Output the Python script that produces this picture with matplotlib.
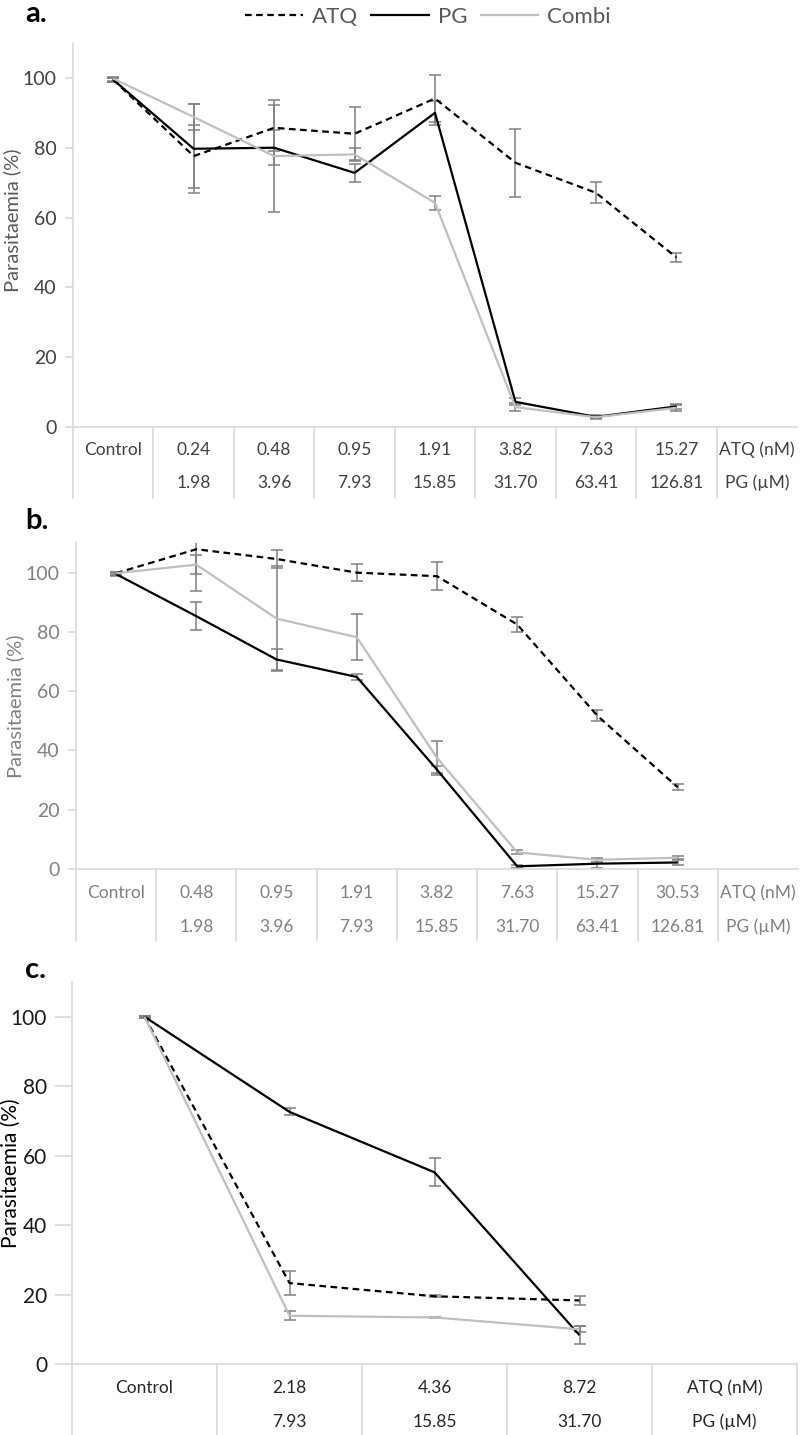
import matplotlib
matplotlib.use("Agg")
import matplotlib.pyplot as plt
from matplotlib import font_manager
from matplotlib.lines import Line2D
from matplotlib.transforms import blended_transform_factory

# ---------------- data ----------------
atq_a_labels = ["Control", "0.24", "0.48", "0.95", "1.91", "3.82", "7.63", "15.27"]
pg_a_labels = ["", "1.98", "3.96", "7.93", "15.85", "31.70", "63.41", "126.81"]
atq_a = [99.5, 77.6, 85.7, 84.0, 94.1, 75.7, 67.1, 48.6]
atq_a_err = [0.6, 9.0, 6.5, 7.7, 6.7, 9.8, 3.0, 1.2]
pg_a = [99.5, 79.7, 80.0, 72.8, 90.0, 7.2, 2.9, 5.9]
pg_a_err = [0.6, 12.7, 5.0, 2.5, 3.4, 1.0, 0.4, 0.8]
combi_a = [99.8, 88.8, 77.6, 78.1, 64.2, 5.7, 2.8, 5.5]
combi_a_err = [0.6, 3.6, 16.0, 1.7, 2.0, 1.2, 0.4, 0.8]

atq_b_labels = ["Control", "0.48", "0.95", "1.91", "3.82", "7.63", "15.27", "30.53"]
pg_b_labels = ["", "1.98", "3.96", "7.93", "15.85", "31.70", "63.41", "126.81"]
atq_b = [99.8, 107.9, 104.6, 100.0, 98.8, 82.5, 51.7, 27.6]
atq_b_err = [0.5, 14.0, 3.1, 2.8, 4.8, 2.4, 1.9, 1.0]
pg_b = [99.5, 85.3, 70.7, 64.8, 33.5, 0.9, 1.8, 2.2]
pg_b_err = [0.5, 4.7, 3.7, 1.0, 1.2, 0.5, 1.5, 0.8]
combi_b = [99.8, 102.7, 84.5, 78.2, 37.5, 5.6, 3.1, 3.8]
combi_b_err = [0.5, 3.1, 17.6, 7.8, 5.8, 0.7, 0.6, 0.5]

atq_c_labels = ["Control", "2.18", "4.36", "8.72"]
pg_c_labels = ["", "7.93", "15.85", "31.70"]
atq_c = [100.0, 23.3, 19.5, 18.3]
atq_c_err = [0.3, 3.5, 0.3, 1.2]
pg_c = [100.0, 72.6, 55.2, 8.3]
pg_c_err = [0.3, 1.0, 4.0, 2.6]
combi_c = [100.0, 13.9, 13.4, 10.0]
combi_c_err = [0.3, 1.3, 0.2, 0.8]

series_names = ["ATQ", "PG", "Combi"]
unit_labels = ["ATQ (nM)", "PG (\u00b5M)"]

# ---------------- fonts ----------------
avail = {f.name for f in font_manager.fontManager.ttflist}
narrow = "Liberation Sans Narrow" if "Liberation Sans Narrow" in avail else "Lato"
plt.rcParams["font.family"] = [narrow, "DejaVu Sans"]

W, H = 800, 1435
fig = plt.figure(figsize=(W / 100, H / 100), dpi=100)


def px_axes(left, top, right, bottom):
    return fig.add_axes([left / W, 1 - bottom / H, (right - left) / W, (bottom - top) / H])


def fy(ypx):
    return 1 - ypx / H


styles = {
    "ATQ": dict(color="black", lw=1.6, dashes=(3, 2)),
    "PG": dict(color="black", lw=1.6),
    "Combi": dict(color="#BFBFBF", lw=1.6),
}


def draw_panel(ax, vals, errs, atq_lbls, pg_lbls, ncols, tick_color, tick_size,
               tick_len, table_color, table_size, rows_y, table_bottom,
               axis_bottom_px, right_border, table_font):
    x = list(range(len(atq_lbls)))
    for name, v, e in zip(series_names, vals, errs):
        ax.errorbar(x, v, yerr=e, fmt="none", ecolor="#808080", elinewidth=1.1,
                    capsize=4.5, capthick=1.1, zorder=2)
    for name, v in zip(series_names, vals):
        ax.plot(x, v, zorder=3, solid_capstyle="butt", dash_capstyle="butt", **styles[name])
    ax.set_xlim(-0.5, ncols - 0.5)
    ax.set_ylim(0, 110)
    ax.set_yticks(range(0, 101, 20))
    ax.set_xticks([])
    for s in ["top", "right"]:
        ax.spines[s].set_visible(False)
    for s in ["left", "bottom"]:
        ax.spines[s].set_color("#D9D9D9")
        ax.spines[s].set_linewidth(1.2)
    ax.tick_params(axis="y", colors="#D9D9D9", labelcolor=tick_color,
                   labelsize=tick_size, length=tick_len, width=1.2, pad=6)
    for lab in ax.get_yticklabels():
        lab.set_family(table_font)
    tr = blended_transform_factory(ax.transData, fig.transFigure)
    bounds = [i - 0.5 for i in range(ncols)]
    if right_border:
        bounds.append(ncols - 0.5)
    for b in bounds:
        fig.add_artist(Line2D([b, b], [fy(axis_bottom_px), fy(table_bottom)],
                              transform=tr, color="#D9D9D9", lw=1.2))
    for i, (t1, t2) in enumerate(zip(atq_lbls, pg_lbls)):
        fig.text(i, fy(rows_y[0]), t1, transform=tr, ha="center", va="center",
                 color=table_color, fontsize=table_size, family=table_font)
        if t2:
            fig.text(i, fy(rows_y[1]), t2, transform=tr, ha="center", va="center",
                     color=table_color, fontsize=table_size, family=table_font)
    fig.text(ncols - 1, fy(rows_y[0]), unit_labels[0], transform=tr, ha="center",
             va="center", color=table_color, fontsize=table_size, family=table_font)
    fig.text(ncols - 1, fy(rows_y[1]), unit_labels[1], transform=tr, ha="center",
             va="center", color=table_color, fontsize=table_size, family=table_font)


# Panel a
ax_a = px_axes(73, 43, 797, 427)
draw_panel(ax_a, [atq_a, pg_a, combi_a], [atq_a_err, pg_a_err, combi_a_err],
           atq_a_labels, pg_a_labels, 9, "#404040", 14, 6, "#404040", 12.5,
           (450, 483), 498, 427, False, narrow)
fig.text(12 / W, fy(220), "Parasitaemia (%)", rotation=90, ha="center", va="center",
         color="#595959", fontsize=14.5, family="Lato")
fig.text(25 / W, fy(14), "a.", ha="left", va="center", fontsize=21,
         fontweight="bold", color="black", family="Lato")

# Panel b
ax_b = px_axes(76, 543, 798, 869)
draw_panel(ax_b, [atq_b, pg_b, combi_b], [atq_b_err, pg_b_err, combi_b_err],
           atq_b_labels, pg_b_labels, 9, "#808080", 14, 6, "#808080", 12.5,
           (893, 927), 940, 869, False, "Lato")
fig.text(15 / W, fy(706), "Parasitaemia (%)", rotation=90, ha="center", va="center",
         color="#808080", fontsize=14.5, family="Lato")
fig.text(25 / W, fy(521), "b.", ha="left", va="center", fontsize=21,
         fontweight="bold", color="black", family="Lato")

# Panel c
ax_c = px_axes(72, 982, 797, 1364)
draw_panel(ax_c, [atq_c, pg_c, combi_c], [atq_c_err, pg_c_err, combi_c_err],
           atq_c_labels, pg_c_labels, 5, "#1a1a1a", 15, 12, "#262626", 12.5,
           (1388, 1422), 1435, 1364, True, narrow)
fig.text(11 / W, fy(1173), "Parasitaemia (%)", rotation=90, ha="center", va="center",
         color="black", fontsize=15, family="Lato")
fig.text(25 / W, fy(970), "c.", ha="left", va="center", fontsize=21,
         fontweight="bold", color="black", family="Lato")

# Legend
handles = [Line2D([], [], **styles[n]) for n in series_names]
fig.legend(handles, series_names, loc="center", bbox_to_anchor=(428 / W, fy(17)),
           ncol=3, frameon=False, handlelength=2.6, handletextpad=0.4,
           columnspacing=0.6, labelcolor="#595959", prop={"family": narrow, "size": 16})

fig.savefig("out.png", dpi=100)
